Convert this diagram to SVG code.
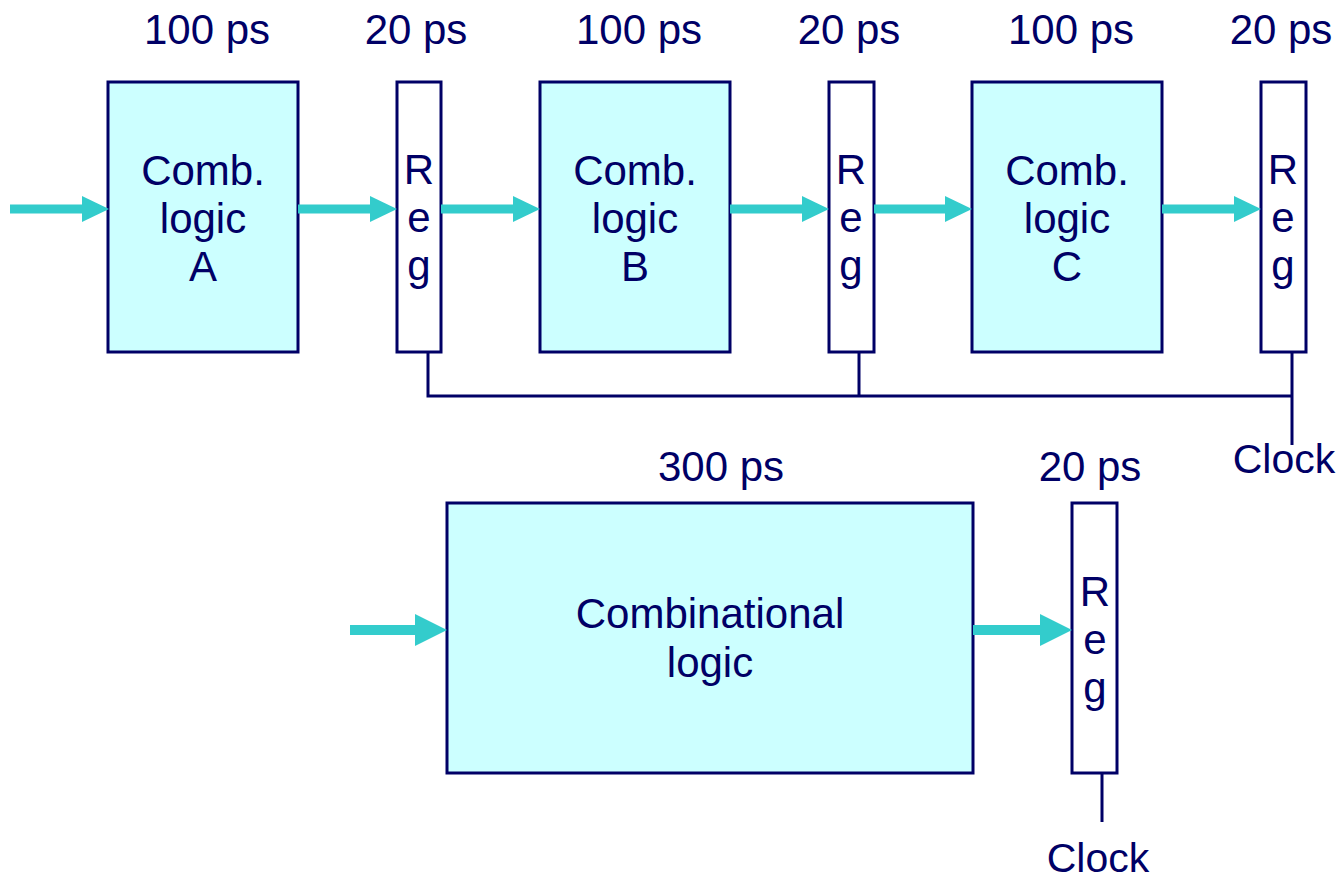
<svg xmlns="http://www.w3.org/2000/svg" width="1344" height="882" viewBox="0 0 1344 882">
<style>
.comb{fill:#CCFFFF;stroke:#000066;stroke-width:3}
.reg{fill:#FFFFFF;stroke:#000066;stroke-width:3}
.t{font-family:"Liberation Sans",Arial,sans-serif;font-size:42px;fill:#000066;text-anchor:middle}
.ck{font-size:41px}
.flow{stroke:#33CCCC;stroke-width:9;fill:none}
.flow2{stroke:#33CCCC;stroke-width:10;fill:none}
.clk{stroke:#000066;stroke-width:3;fill:none}
</style>
<defs>
<marker id="ah" markerUnits="userSpaceOnUse" markerWidth="27" markerHeight="26" refX="0" refY="13" orient="auto" overflow="visible">
<path d="M0,0 L27,13 L0,26 Z" fill="#33CCCC"/>
</marker>
<marker id="ah2" markerUnits="userSpaceOnUse" markerWidth="32" markerHeight="32" refX="0" refY="16" orient="auto" overflow="visible">
<path d="M0,0 L32,16 L0,32 Z" fill="#33CCCC"/>
</marker>
</defs>

<g id="labels">
<text class="t" x="207" y="44">100 ps</text>
<text class="t" x="416" y="44">20 ps</text>
<text class="t" x="639" y="44">100 ps</text>
<text class="t" x="849" y="44">20 ps</text>
<text class="t" x="1071" y="44">100 ps</text>
<text class="t" x="1281" y="44">20 ps</text>
<text class="t" x="721" y="481">300 ps</text>
<text class="t" x="1090" y="481">20 ps</text>
</g>

<g id="combA">
<rect class="comb" x="108" y="82" width="190" height="270"/>
<text class="t" x="203" y="185">Comb.</text>
<text class="t" x="203" y="233">logic</text>
<text class="t" x="203" y="281">A</text>
</g>
<g id="reg1">
<rect class="reg" x="397" y="82" width="44" height="270"/>
<text class="t" x="419" y="184">R</text>
<text class="t" x="419" y="232">e</text>
<text class="t" x="419" y="280">g</text>
</g>
<g id="combB">
<rect class="comb" x="540" y="82" width="190" height="270"/>
<text class="t" x="635" y="185">Comb.</text>
<text class="t" x="635" y="233">logic</text>
<text class="t" x="635" y="281">B</text>
</g>
<g id="reg2">
<rect class="reg" x="829" y="82" width="45" height="270"/>
<text class="t" x="851" y="184">R</text>
<text class="t" x="851" y="232">e</text>
<text class="t" x="851" y="280">g</text>
</g>
<g id="combC">
<rect class="comb" x="972" y="82" width="190" height="270"/>
<text class="t" x="1067" y="185">Comb.</text>
<text class="t" x="1067" y="233">logic</text>
<text class="t" x="1067" y="281">C</text>
</g>
<g id="reg3">
<rect class="reg" x="1261" y="82" width="45" height="270"/>
<text class="t" x="1283" y="184">R</text>
<text class="t" x="1283" y="232">e</text>
<text class="t" x="1283" y="280">g</text>
</g>
<g id="clock1">
<text class="t ck" x="1284" y="473">Clock</text>
</g>

<g id="combBig">
<rect class="comb" x="447" y="503" width="526" height="270"/>
<text class="t" x="710" y="628">Combinational</text>
<text class="t" x="710" y="677">logic</text>
</g>
<g id="reg4">
<rect class="reg" x="1072" y="503" width="45" height="270"/>
<text class="t" x="1095" y="606">R</text>
<text class="t" x="1095" y="654">e</text>
<text class="t" x="1095" y="702">g</text>
</g>
<g id="clock2">
<text class="t ck" x="1098" y="872">Clock</text>
</g>

<g id="connectors">
<line class="flow" x1="10" y1="209" x2="82" y2="209" marker-end="url(#ah)"/>
<line class="flow" x1="298" y1="209" x2="370" y2="209" marker-end="url(#ah)"/>
<line class="flow" x1="441" y1="209" x2="513" y2="209" marker-end="url(#ah)"/>
<line class="flow" x1="730" y1="209" x2="802" y2="209" marker-end="url(#ah)"/>
<line class="flow" x1="874" y1="209" x2="945" y2="209" marker-end="url(#ah)"/>
<line class="flow" x1="1162" y1="209" x2="1234" y2="209" marker-end="url(#ah)"/>
<line class="flow2" x1="350" y1="630" x2="415" y2="630" marker-end="url(#ah2)"/>
<line class="flow2" x1="973" y1="630" x2="1040" y2="630" marker-end="url(#ah2)"/>
<polyline class="clk" points="428,352 428,396 1292,396"/>
<line class="clk" x1="859" y1="352" x2="859" y2="396"/>
<line class="clk" x1="1292" y1="352" x2="1292" y2="445"/>
<line class="clk" x1="1102" y1="773" x2="1102" y2="822"/>
</g>
</svg>
